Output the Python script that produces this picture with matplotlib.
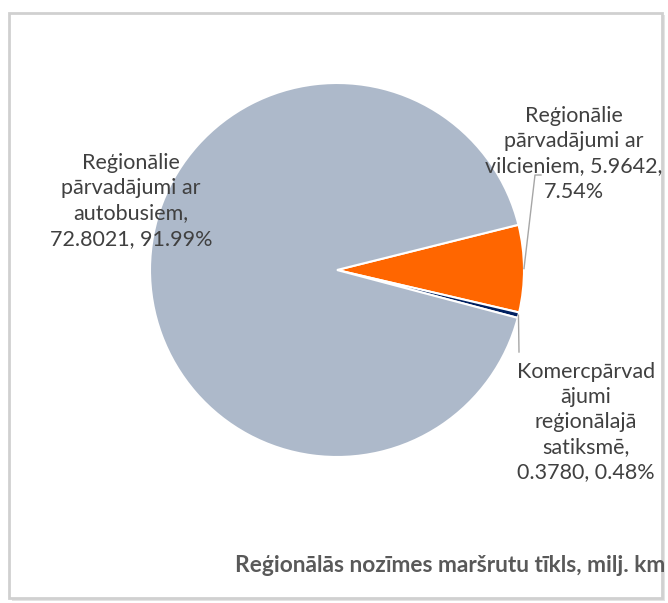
import numpy as np
import matplotlib.pyplot as plt
from matplotlib.patches import Rectangle

# slices, in drawing order (clockwise from the orange one)
labels = ["Reģionālie\npārvadājumi ar\nvilcieniem, 5.9642,\n7.54%",
          "Komercpārvad\nājumi\nreģionālajā\nsatiksmē,\n0.3780, 0.48%",
          "Reģionālie\npārvadājumi ar\nautobusiem,\n72.8021, 91.99%"]
values = [5.9642, 0.3780, 72.8021]
colors = ["#FF6600", "#002060", "#ADB9CA"]
title = "Reģionālās nozīmes maršrutu tīkls, milj. km"

W, H = 668, 603
plt.rcParams['font.family'] = ['Lato', 'DejaVu Sans']
fig = plt.figure(figsize=(W / 100, H / 100), dpi=100)

# chart frame with a soft shadow
fig.patches.append(Rectangle((12 / W, 1 - 601 / H), 653 / W, 586 / H, transform=fig.transFigure,
                             facecolor="#E4E4E4", edgecolor="none", zorder=0))
fig.patches.append(Rectangle((9 / W, 1 - 598 / H), 653 / W, 585 / H, transform=fig.transFigure,
                             facecolor="white", edgecolor="#D0D0D0", linewidth=2, zorder=1))

cx, cy, r = 337, 270, 187
ax = fig.add_axes([(cx - r) / W, 1 - (cy + r) / H, 2 * r / W, 2 * r / H])
ax.set_zorder(2)
wedges, _ = ax.pie(values, colors=colors, startangle=14, counterclock=False,
                   wedgeprops=dict(edgecolor="white", linewidth=1.5), radius=1)
ax.set_xlim(-1, 1)
ax.set_ylim(-1, 1)
ax.set_aspect('equal')


def px(x, y):
    return (x - cx) / r, (cy - y) / r


tc = "#404040"
lc = "#A6A6A6"
fs = 15.5

# label positions (pixel centres from the reference)
pos = [(574, 154), (586, 422), (131, 201)]
for i, (w, lab) in enumerate(zip(wedges, labels)):
    tx, ty = px(*pos[i])
    ax.text(tx, ty, lab, ha="center", va="center", fontsize=fs, color=tc,
            linespacing=1.32, clip_on=False, zorder=5)

# leader lines from wedge mid-angle
for i, pts in [(0, [(541, 175), (535, 175)]), (1, [(519, 352)])]:
    w = wedges[i]
    ang = np.deg2rad((w.theta1 + w.theta2) / 2)
    ax_, ay_ = np.cos(ang), np.sin(ang)
    xs = [px(*p)[0] for p in pts] + [ax_]
    ys = [px(*p)[1] for p in pts] + [ay_]
    ax.plot(xs, ys, color=lc, linewidth=1, clip_on=False, zorder=4)

fig.text(665 / W, 1 - 566 / H, title, ha="right", va="center", fontsize=16.4,
         fontweight="bold", color="#595959", zorder=5)

fig.savefig("out.png", dpi=100)
